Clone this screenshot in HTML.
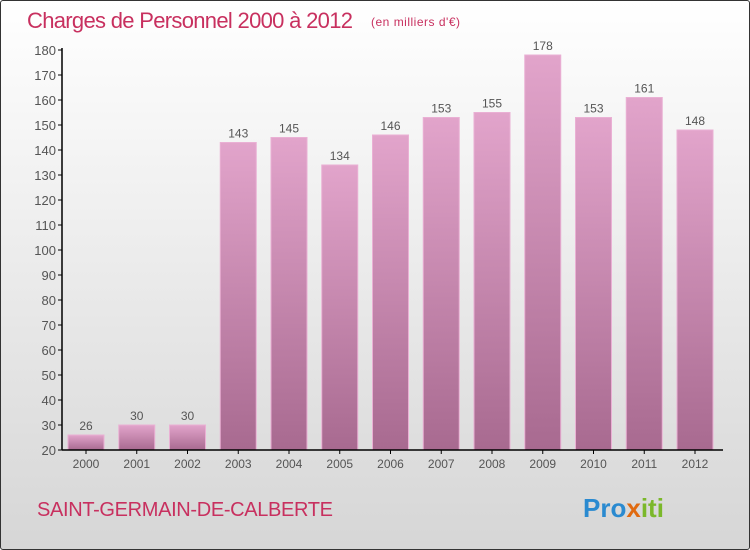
<!DOCTYPE html>
<html><head><meta charset="utf-8"><style>
html,body{margin:0;padding:0;}
body{width:750px;height:550px;overflow:hidden;font-family:"Liberation Sans",sans-serif;}
#wrap{position:relative;width:748px;height:548px;border:1px solid #333;background:linear-gradient(#ffffff,#d6d6d6);border-radius:3px;}
</style></head><body>
<div id="wrap">
<svg id="chart" width="748" height="548" style="position:absolute;left:0;top:0">
<defs>
<linearGradient id="bg" x1="0" y1="0" x2="0" y2="1"><stop offset="0" stop-color="#e2a4cb"/><stop offset="1" stop-color="#a86a90"/></linearGradient>
</defs>
<text x="26" y="27" font-size="22" fill="#c8305f" textLength="326">Charges de Personnel 2000 à 2012</text>
<text x="370" y="25" font-size="12" fill="#c8305f" textLength="89">(en milliers d'€)</text>
<text x="36" y="515" font-size="20" fill="#c8305f" textLength="296">SAINT-GERMAIN-DE-CALBERTE</text>
<text x="582" y="516" font-size="26" font-weight="bold"><tspan fill="#2a8ad0">Pro</tspan><tspan fill="#e06a10">x</tspan><tspan fill="#7bb82a">iti</tspan></text>
<g id="plot"></g>
</svg>
</div>
<script>
const categories=["2000","2001","2002","2003","2004","2005","2006","2007","2008","2009","2010","2011","2012"];
const values=[26,30,30,143,145,134,146,153,155,178,153,161,148];
const ticks=[20,30,40,50,60,70,80,90,100,110,120,130,140,150,160,170,180];
const NS="http://www.w3.org/2000/svg";
const g=document.getElementById('plot');
const y0=449,yMin=20,pxPer=2.5;
function y(v){return y0-(v-yMin)*pxPer;}
function xc(i){return 85+i*50.75;}
function mk(t,a){const e=document.createElementNS(NS,t);for(const k in a)e.setAttribute(k,a[k]);g.appendChild(e);return e;}
ticks.forEach(t=>{
 const tl=mk('line',{x1:57,x2:61,y1:y(t),y2:y(t),stroke:'#000'});
 
 
 const tx=mk('text',{x:55,y:y(t)+5,'font-size':13,fill:'#555','text-anchor':'end'});
 tx.textContent=t;
 
 
});
categories.forEach((c,i)=>{
 const v=values[i],cx=xc(i);
 const r=mk('rect',{x:cx-18,y:y(v),width:36,height:y0-y(v),fill:'url(#bg)',stroke:'#eab0d4','stroke-width':1});
 
 
 const vl=mk('text',{x:cx,y:y(v)-5,'font-size':12,fill:'#555','text-anchor':'middle'});
 vl.textContent=v;
 
 
 const xl=mk('text',{x:cx,y:467,'font-size':12,fill:'#555','text-anchor':'middle'});
 xl.textContent=c;
 
 
 const xt=mk('line',{x1:cx,x2:cx,y1:y0,y2:y0+4,stroke:'#000'});
 
 
});
const ya=mk('line',{x1:61,x2:61,y1:y(180)-2,y2:y0,stroke:'#000','stroke-width':1.5});


const xa=mk('line',{x1:61,x2:722,y1:y0,y2:y0,stroke:'#000','stroke-width':1.5});


</script>
</body></html>
